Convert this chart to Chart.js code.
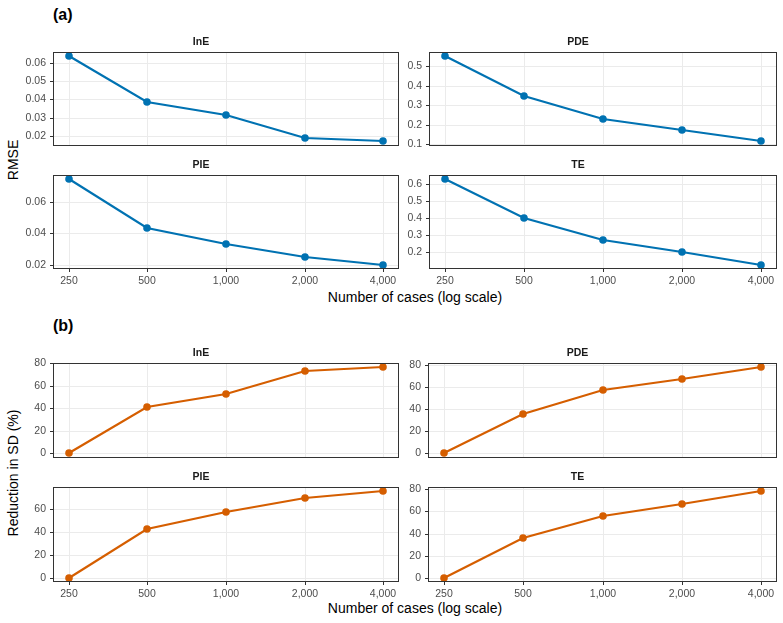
<!DOCTYPE html>
<html>
<head>
<meta charset="utf-8">
<script src="https://cdn.jsdelivr.net/npm/chart.js@4.4.1/dist/chart.umd.min.js"></script>
<style>
  body { margin: 0; background: #fff; font-family: "Liberation Sans", Arial, sans-serif; }
  #wrap { position: relative; width: 783px; height: 623px; overflow: hidden; }
  canvas { position: absolute; }
  .lbl { position: absolute; white-space: nowrap; line-height: 1; transform: translate(-50%, -50%); color: #000; font-size: 14px; }
  .tag { font-weight: bold; font-size: 16px; transform: translate(0, -50%); }
  .rot { transform: translate(-50%, -50%) rotate(-90deg); }
</style>
</head>
<body>
<div id="wrap">
  <div class="lbl tag" style="left:53px; top:15px;">(a)</div>
  <div class="lbl tag" style="left:53px; top:326px;">(b)</div>
  <div class="lbl rot" style="left:13px; top:160px;">RMSE</div>
  <div class="lbl rot" style="left:13px; top:473px;">Reduction in SD (%)</div>
  <div class="lbl" style="left:415px; top:297px;">Number of cases (log scale)</div>
  <div class="lbl" style="left:415px; top:608px;">Number of cases (log scale)</div>
</div>
<script>
// sample sizes (x axis, log scale)
const xCases = [250, 500, 1000, 2000, 4000];
const xLabels = ['250', '500', '1,000', '2,000', '4,000'];

// (a) RMSE
const rmseInE = [0.0636, 0.0384, 0.0316, 0.0191, 0.0171];
const rmsePDE = [0.551, 0.348, 0.230, 0.172, 0.115];
const rmsePIE = [0.0740, 0.0434, 0.0335, 0.0252, 0.0204];
const rmseTE = [0.625, 0.400, 0.273, 0.203, 0.127];

// (b) reduction in SD (%)
const redInE = [0, 41.0, 52.6, 72.9, 76.4];
const redPDE = [0, 35.3, 57.3, 67.0, 77.9];
const redPIE = [0, 42.2, 57.4, 69.7, 75.6];
const redTE = [0, 35.7, 56.1, 66.4, 78.2];

// y tick labels
const ticksRmseInE = [0.02, 0.03, 0.04, 0.05, 0.06];
const ticksRmsePDE = [0.1, 0.2, 0.3, 0.4, 0.5];
const ticksRmsePIE = [0.02, 0.04, 0.06];
const ticksRmseTE = [0.2, 0.3, 0.4, 0.5, 0.6];
const ticksRed = [0, 20, 40, 60, 80];
const ticksRedPIE = [0, 20, 40, 60];

const blue = '#0072B2';
const orange = '#D55E00';

// panel boxes (plot area) on the page
const panels = [
  { name: 'InE', vals: rmseInE, ticks: ticksRmseInE, color: blue, l: 53, t: 52, r: 399, b: 146, bottom: false },
  { name: 'PDE', vals: rmsePDE, ticks: ticksRmsePDE, color: blue, l: 429, t: 52, r: 777, b: 146, bottom: false },
  { name: 'PIE', vals: rmsePIE, ticks: ticksRmsePIE, color: blue, l: 53, t: 175, r: 399, b: 269, bottom: true },
  { name: 'TE', vals: rmseTE, ticks: ticksRmseTE, color: blue, l: 429, t: 175, r: 777, b: 269, bottom: true },
  { name: 'InE', vals: redInE, ticks: ticksRed, color: orange, l: 53, t: 363, r: 399, b: 458, bottom: false },
  { name: 'PDE', vals: redPDE, ticks: ticksRed, color: orange, l: 428, t: 363, r: 777, b: 458, bottom: false },
  { name: 'PIE', vals: redPIE, ticks: ticksRedPIE, color: orange, l: 53, t: 487, r: 399, b: 582, bottom: true },
  { name: 'TE', vals: redTE, ticks: ticksRed, color: orange, l: 428, t: 487, r: 777, b: 582, bottom: true }
];

const YW = 50, TH = 18, RP = 6;

// full frame round the panel, like ggplot's panel border
const frame = {
  id: 'frame',
  afterDraw(chart) {
    const a = chart.chartArea;
    const ctx = chart.ctx;
    ctx.save();
    ctx.strokeStyle = '#333333';
    ctx.lineWidth = 1;
    ctx.strokeRect(Math.round(a.left) + 0.5, Math.round(a.top) + 0.5, Math.round(a.right - a.left) - 1, Math.round(a.bottom - a.top) - 1);
    ctx.restore();
  }
};

// 5% expansion like ggplot
function expand(lo, hi) {
  const pad = (hi - lo) * 0.05;
  return [lo - pad, hi + pad];
}

const wrap = document.getElementById('wrap');
const xl = Math.log2(xCases[0]), xh = Math.log2(xCases[xCases.length - 1]);
const xr = expand(xl, xh);

panels.forEach(p => {
  const XH = p.bottom ? 20 : 10;
  const cv = document.createElement('canvas');
  const w = (p.r - p.l) + YW + RP;
  const h = TH + (p.b - p.t) + XH;
  cv.width = w;
  cv.height = h;
  cv.style.left = (p.l - YW) + 'px';
  cv.style.top = (p.t - TH) + 'px';
  wrap.appendChild(cv);

  const yr = expand(Math.min(...p.vals), Math.max(...p.vals));

  new Chart(cv, {
    type: 'line',
    data: {
      datasets: [{
        data: xCases.map((x, i) => ({ x: x, y: p.vals[i] })),
        borderColor: p.color,
        backgroundColor: p.color,
        borderWidth: 2.2,
        pointRadius: 3.8,
        pointBorderWidth: 0,
        pointBackgroundColor: p.color,
        tension: 0
      }]
    },
    options: {
      responsive: false,
      animation: false,
      layout: { padding: { left: 0, right: RP, top: 0, bottom: 0 } },
      plugins: {
        legend: { display: false },
        tooltip: { enabled: false },
        title: {
          display: true,
          text: p.name,
          color: '#1A1A1A',
          font: { family: '"Liberation Sans", Arial, sans-serif', size: 10.5, weight: 'bold', lineHeight: '12px' },
          padding: { top: 2, bottom: 4 }
        }
      },
      scales: {
        x: {
          type: 'logarithmic',
          min: Math.pow(2, xr[0]),
          max: Math.pow(2, xr[1]),
          alignToPixels: true,
          afterBuildTicks: s => { s.ticks = xCases.map(v => ({ value: v })); },
          afterFit: s => { s.height = XH; },
          border: { display: false },
          grid: { color: '#EBEBEB', lineWidth: 1, drawTicks: p.bottom, tickLength: 3, tickColor: '#333333', tickWidth: 1 },
          ticks: {
            display: p.bottom,
            autoSkip: false,
            maxRotation: 0,
            padding: 3,
            color: '#4D4D4D',
            font: { family: '"Liberation Sans", Arial, sans-serif', size: 10.5 },
            callback: (v, i) => xLabels[i]
          }
        },
        y: {
          type: 'linear',
          min: yr[0],
          max: yr[1],
          alignToPixels: true,
          afterBuildTicks: s => { s.ticks = p.ticks.map(v => ({ value: v })); },
          afterFit: s => { s.width = YW; },
          border: { display: false },
          grid: { color: '#EBEBEB', lineWidth: 1, tickLength: 3, tickColor: '#333333', tickWidth: 1 },
          ticks: {
            padding: 4,
            color: '#4D4D4D',
            font: { family: '"Liberation Sans", Arial, sans-serif', size: 10.5 },
            callback: v => String(v)
          }
        }
      }
    },
    plugins: [frame]
  });
});
</script>
</body>
</html>
